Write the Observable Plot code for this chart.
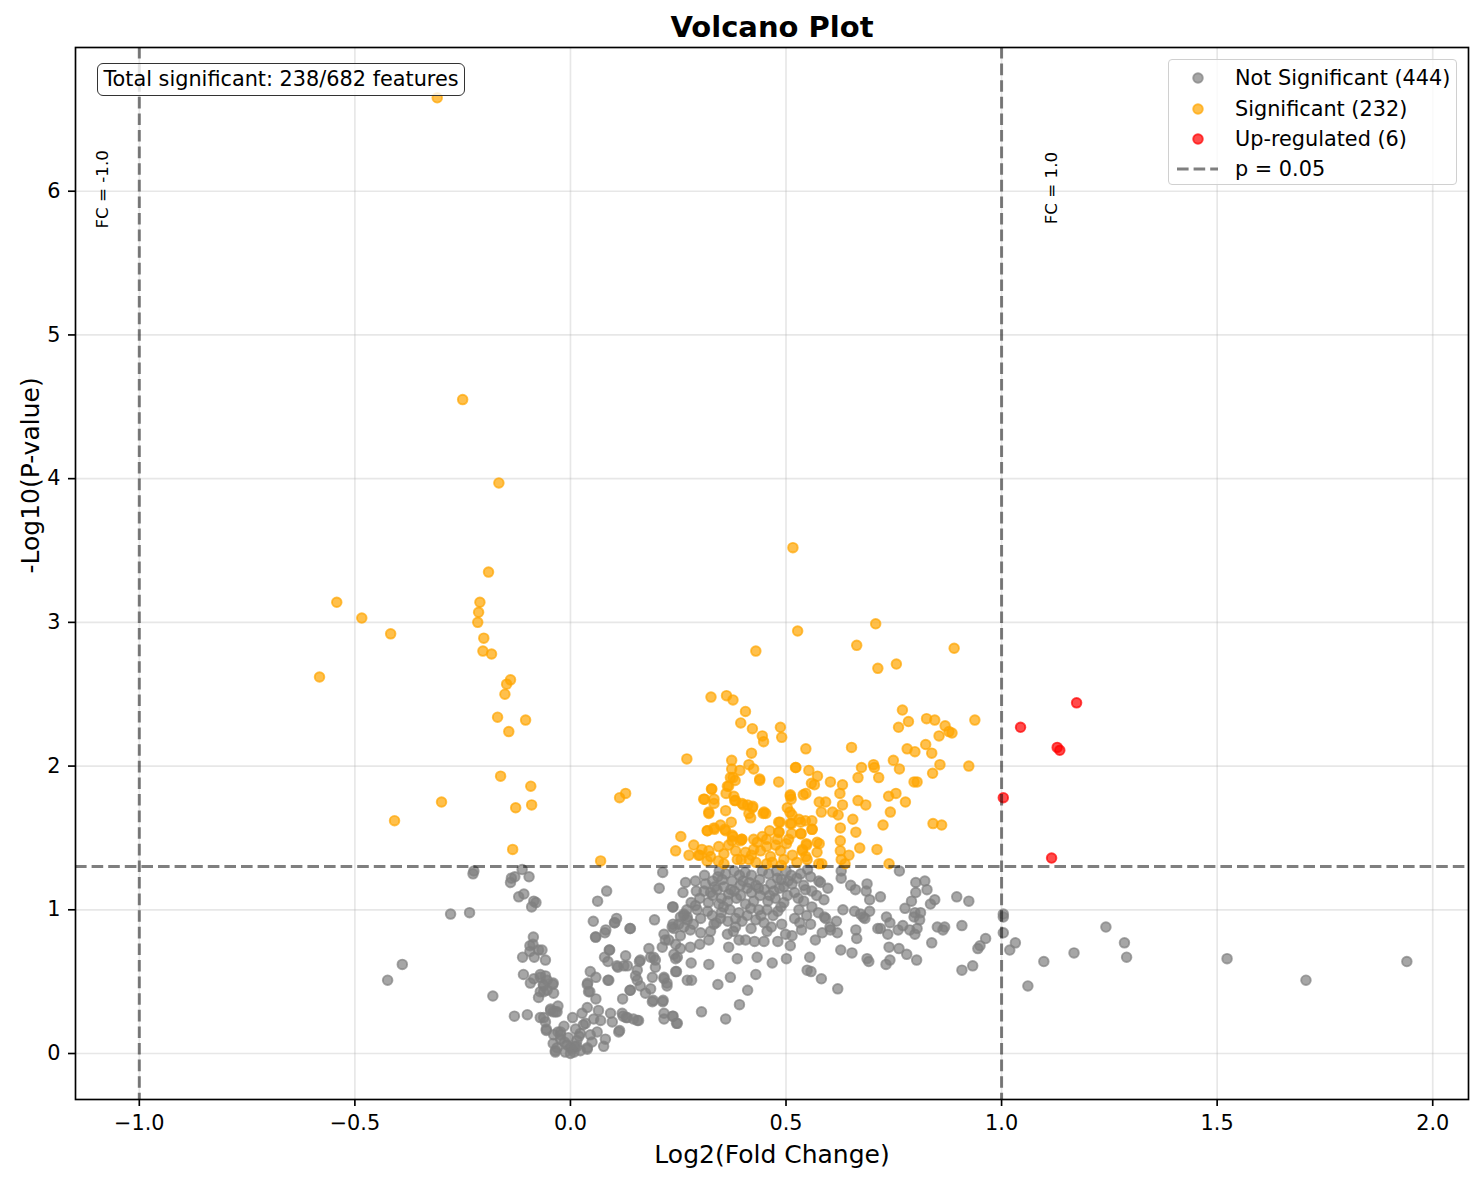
<!DOCTYPE html>
<html>
<head>
<meta charset="utf-8">
<script src="https://cdn.jsdelivr.net/npm/d3@7"></script>
<script src="https://cdn.jsdelivr.net/npm/@observablehq/plot@0.6"></script>
<style>
  body { margin: 0; background: white; font-family: "DejaVu Sans", sans-serif; }
  #wrap { position: relative; width: 1484px; height: 1182px; }
  #legend { position: absolute; left: 1168px; top: 59px; width: 289px; height: 126px;
    border: 1px solid #d0d0d0; border-radius: 4px; background: rgba(255,255,255,0.8);
    font-size: 20.8px; color: black; box-sizing: border-box; }
  .row { position: absolute; left: 0; height: 30px; display: flex; align-items: center; }
  .row span { position: absolute; left: 66px; white-space: nowrap; line-height: 30px; }
  #total { position: absolute; left: 97px; top: 63px; width: 368px; height: 33px; box-sizing: border-box;
    border: 1.6px solid #333; border-radius: 6px; background: rgba(255,255,255,0.8);
    font-size: 20.8px; line-height: 30px; text-align: center; color: black; white-space: nowrap; }
</style>
</head>
<body>
<div id="wrap"><div id="chart"></div><div id="legend"></div><div id="total"></div></div>
<script>
const chartTitle = "Volcano Plot";
const xLabel = "Log2(Fold Change)";
const yLabel = "-Log10(P-value)";
const xTicks = [-1, -0.5, 0, 0.5, 1, 1.5, 2];
const yTicks = [0, 1, 2, 3, 4, 5, 6];
const pThreshold = 0.05;
const fcThreshold = 1.0;
const legendLabels = ["Not Significant (444)", "Significant (232)", "Up-regulated (6)", "p = 0.05"];
const totalText = "Total significant: 238/682 features";

const upRegulated = [[1.174,2.44],[1.044,2.27],[1.129,2.13],[1.135,2.11],[1.004,1.78],[1.116,1.36]];

const significant = [
[-0.309,6.65],[-0.250,4.55],[-0.166,3.97],[-0.190,3.35],[-0.542,3.14],[-0.210,3.14],[-0.213,3.07],[-0.215,3.00],[-0.484,3.03],[-0.417,2.92],[-0.201,2.89],[-0.203,2.80],[-0.183,2.78],[-0.582,2.62],[-0.139,2.60],[-0.148,2.57],[-0.152,2.50],[-0.169,2.34],[-0.104,2.32],[-0.143,2.24],[-0.162,1.93],[-0.092,1.86],[-0.299,1.75],[-0.090,1.73],[-0.127,1.71],[-0.408,1.62],[-0.134,1.42],
[0.516,3.52],[0.527,2.94],[0.430,2.80],[0.326,2.48],[0.362,2.49],[0.377,2.46],[0.406,2.38],[0.395,2.30],[0.422,2.26],[0.487,2.27],[0.445,2.21],[0.448,2.17],[0.490,2.20],[0.270,2.05],[0.374,2.04],[0.420,2.09],[0.414,2.01],[0.425,1.98],[0.393,1.97],[0.374,1.98],[0.377,1.92],[0.382,1.90],[0.522,1.99],[0.439,1.90],[0.483,1.89],[0.128,1.81],[0.114,1.78],[0.367,1.86],[0.328,1.84],[0.361,1.81],[0.311,1.77],[0.333,1.77],[0.333,1.74],[0.379,1.79],[0.381,1.76],[0.401,1.73],[0.423,1.72],[0.510,1.80],[0.512,1.77],[0.321,1.68],[0.360,1.69],[0.414,1.67],[0.418,1.64],[0.447,1.67],[0.453,1.67],[0.503,1.71],[0.509,1.68],[0.318,1.55],[0.333,1.57],[0.348,1.59],[0.358,1.56],[0.373,1.61],[0.486,1.61],[0.513,1.60],[0.256,1.51],[0.244,1.41],[0.286,1.45],[0.275,1.38],[0.297,1.38],[0.070,1.34],[0.377,1.51],[0.397,1.49],[0.462,1.55],[0.484,1.54],[0.513,1.53],
[0.708,2.99],[0.664,2.84],[0.890,2.82],[0.713,2.68],[0.756,2.71],[0.770,2.39],[0.938,2.32],[0.784,2.31],[0.761,2.27],[0.826,2.33],[0.845,2.32],[0.869,2.28],[0.878,2.24],[0.885,2.23],[0.855,2.21],[0.546,2.12],[0.652,2.13],[0.781,2.12],[0.799,2.10],[0.824,2.15],[0.838,2.09],[0.749,2.04],[0.523,1.99],[0.553,1.97],[0.573,1.93],[0.675,1.99],[0.703,2.01],[0.705,1.99],[0.763,1.98],[0.857,2.01],[0.924,2.00],[0.840,1.95],[0.667,1.92],[0.715,1.92],[0.559,1.88],[0.566,1.87],[0.603,1.89],[0.631,1.87],[0.797,1.89],[0.804,1.89],[0.540,1.80],[0.546,1.81],[0.625,1.81],[0.755,1.81],[0.738,1.79],[0.577,1.75],[0.592,1.75],[0.667,1.76],[0.685,1.73],[0.777,1.75],[0.631,1.73],[0.582,1.68],[0.608,1.68],[0.621,1.66],[0.742,1.68],[0.530,1.63],[0.545,1.62],[0.560,1.62],[0.655,1.63],[0.725,1.59],[0.841,1.60],[0.861,1.59],[0.560,1.56],[0.626,1.57],[0.662,1.54],[0.535,1.53],[0.577,1.46],[0.548,1.45],[0.626,1.48],[0.626,1.41],[0.671,1.43],[0.711,1.42],[0.538,1.42],[0.646,1.38],[0.628,1.35],[0.546,1.37],[0.583,1.32],[0.637,1.32],[0.739,1.32],
[0.321,1.41],[0.325,1.37],[0.317,1.34],[0.344,1.44],[0.356,1.39],[0.367,1.45],[0.375,1.48],[0.383,1.41],[0.356,1.32],[0.387,1.35],[0.398,1.49],[0.406,1.40],[0.414,1.35],[0.425,1.42],[0.433,1.47],[0.441,1.41],[0.445,1.51],[0.455,1.49],[0.464,1.37],[0.476,1.45],[0.480,1.49],[0.487,1.41],[0.495,1.35],[0.501,1.46],[0.506,1.49],[0.534,1.53],[0.547,1.46],[0.538,1.41],[0.549,1.35],[0.561,1.56],[0.572,1.47],[0.572,1.40],[0.576,1.32],[0.317,1.55],[0.334,1.56],[0.360,1.55],[0.375,1.52],[0.394,1.48],[0.425,1.49],[0.483,1.61],[0.483,1.54],[0.510,1.60],[0.514,1.66],[0.534,1.61],[0.321,1.67],[0.309,1.77],[0.327,1.84],[0.364,1.86],[0.371,1.92],[0.383,1.76],[0.398,1.74],[0.411,1.73],[0.422,1.71],[0.449,1.68],[0.439,1.91],[0.510,1.79],[0.300,1.38],[0.305,1.42],[0.420,1.38],[0.430,1.33],[0.455,1.44],[0.468,1.33],[0.515,1.38],[0.525,1.33],[0.343,1.34],[0.396,1.35],[0.455,1.32],[0.489,1.31]
];

const notSignificant = [
[-0.226,1.25],[-0.224,1.27],[-0.137,1.22],[-0.129,1.23],[-0.139,1.19],[-0.112,1.28],[-0.096,1.23],[-0.120,1.09],[-0.108,1.11],[-0.085,1.06],[-0.080,1.05],[-0.090,1.02],[-0.278,0.97],[-0.234,0.98],[-0.086,0.81],[-0.094,0.75],[-0.087,0.76],[-0.094,0.71],[-0.074,0.72],[-0.111,0.67],[-0.084,0.67],[-0.058,0.65],[-0.390,0.62],[-0.424,0.51],[-0.180,0.40],[-0.109,0.55],[-0.085,0.52],[-0.093,0.49],[-0.070,0.53],[-0.058,0.54],[-0.063,0.48],[-0.041,0.48],[-0.070,0.43],[-0.062,0.43],[-0.039,0.42],[-0.074,0.39],[-0.130,0.26],[-0.100,0.27],[-0.070,0.25],[-0.056,0.16],[-0.058,0.22],[-0.046,0.30],[-0.029,0.33],[-0.031,0.29],[-0.040,0.29],[-0.029,0.15],[-0.023,0.13],[-0.040,0.07],[-0.035,0.02],[-0.014,0.08],[0.000,0.04],[0.000,0.00],[0.015,0.09],[0.023,0.14],[0.039,0.03],[0.053,0.92],[0.063,1.06],[0.084,1.13],[0.059,0.81],[0.080,0.84],[0.082,0.86],[0.103,0.91],[0.107,0.94],[0.138,0.87],[0.091,0.72],[0.079,0.67],[0.087,0.64],[0.128,0.68],[0.110,0.60],[0.124,0.61],[0.046,0.57],[0.059,0.53],[0.087,0.51],[0.039,0.48],[0.042,0.43],[0.059,0.38],[0.121,0.38],[0.138,0.44],[0.093,0.28],[0.120,0.28],[0.129,0.25],[0.112,0.15],[0.081,0.10],[0.077,0.05],[0.155,0.23],
[0.027,0.28],[0.039,0.32],[0.035,0.21],[0.046,0.13],[0.062,0.15],[0.070,0.23],[0.054,0.24],[0.012,0.17],[0.015,0.05],[0.004,0.03],[-0.008,0.06],[-0.023,0.10],[-0.031,0.04],[-0.035,0.01],[-0.023,0.15],[0.023,0.02],[-0.012,0.01],[0.008,0.01],[0.097,0.22],[0.122,0.26],[0.132,0.25],[0.114,0.16],[0.039,0.04],[-0.066,0.72],[-0.070,0.55],[-0.040,0.49],[-0.062,0.47],[-0.054,0.44],[-0.046,0.31],[-0.035,0.29],[-0.062,0.25],[-0.056,0.17],[-0.039,0.13],[-0.054,0.51],[0.040,0.49],[0.045,0.43],[0.089,0.51],[0.155,0.51],[0.190,0.53],[0.192,0.37],[0.215,0.37],[0.238,0.26],[0.246,0.21],[0.090,0.72],[0.108,0.61],[0.132,0.61],[0.160,0.64],[0.058,0.81],[0.102,0.91],[0.195,0.93],[0.238,1.02],
[0.186,0.67],[0.197,0.65],[0.217,0.52],[0.224,0.49],[0.246,0.57],[0.271,0.51],[0.213,0.74],[0.220,0.79],[0.240,0.69],[0.244,0.76],[0.255,0.82],[0.240,0.87],[0.263,0.88],[0.251,0.90],[0.271,0.95],[0.263,0.96],[0.010,0.05],[0.020,0.12],[-0.005,0.11],[0.030,0.20],[0.050,0.08],[0.065,0.30],[0.005,0.25],[-0.015,0.19],
[0.214,1.26],[0.206,1.15],[0.261,1.12],[0.267,1.19],[0.290,1.20],[0.292,1.13],[0.311,1.24],[0.313,1.18],[0.325,1.12],[0.342,1.23],[0.356,1.16],[0.367,1.11],[0.375,1.20],[0.394,1.17],[0.410,1.15],[0.439,1.21],[0.472,1.13],[0.489,1.21],[0.514,1.18],[0.534,1.25],[0.541,1.17],[0.557,1.23],[0.576,1.20],[0.571,1.10],[0.588,1.07],[0.541,1.06],[0.503,1.10],[0.495,1.05],[0.481,0.99],[0.458,1.06],[0.456,1.00],[0.437,1.00],[0.418,1.01],[0.406,1.04],[0.391,0.98],[0.383,0.94],[0.383,0.88],[0.344,1.04],[0.348,0.94],[0.329,0.96],[0.333,0.90],[0.294,1.00],[0.290,1.03],[0.302,0.94],[0.263,0.97],[0.237,1.02],[0.238,0.90],[0.236,0.88],[0.271,0.93],[0.278,0.86],[0.302,0.84],[0.325,0.85],[0.321,0.79],[0.364,0.83],[0.391,0.79],[0.406,0.79],[0.427,0.78],[0.449,0.78],[0.419,0.87],[0.449,0.91],[0.456,0.85],[0.481,0.78],[0.499,0.83],[0.514,0.82],[0.510,0.75],[0.520,0.94],[0.536,0.86],[0.557,0.90],[0.568,0.79],[0.592,0.94],[0.217,0.83],[0.228,0.79],[0.182,0.73],[0.255,0.73],[0.244,0.66],[0.248,0.67],[0.278,0.74],[0.300,0.76],[0.367,0.74],[0.387,0.66],[0.433,0.67],[0.468,0.63],[0.501,0.66],[0.555,0.67],[0.549,0.58],[0.558,0.57],[0.193,0.67],[0.197,0.60],[0.162,0.65],[0.155,0.58],[0.151,0.54],[0.217,0.53],[0.224,0.47],[0.244,0.57],[0.280,0.63],[0.281,0.51],[0.321,0.62],[0.342,0.48],[0.371,0.53],[0.430,0.55],[0.411,0.44],[0.392,0.34],[0.162,0.47],[0.174,0.42],[0.186,0.45],[0.190,0.36],[0.214,0.36],[0.217,0.28],[0.217,0.24],[0.237,0.26],[0.248,0.21],[0.304,0.29],[0.360,0.24],[0.158,0.23],[0.146,0.24],[0.139,0.44],[0.139,0.87],
[0.320,1.05],[0.330,1.10],[0.340,1.14],[0.350,1.08],[0.355,1.02],[0.365,1.06],[0.370,1.00],[0.380,1.13],[0.385,1.08],[0.395,1.10],[0.400,1.20],[0.405,1.26],[0.420,1.12],[0.425,1.06],[0.430,1.17],[0.440,1.10],[0.450,1.14],[0.460,1.25],[0.465,1.18],[0.475,1.08],[0.480,1.22],[0.485,1.15],[0.500,1.27],[0.505,1.20],[0.520,1.12],[0.525,1.22],[0.550,1.28],[0.560,1.13],[0.300,1.08],[0.310,1.13],[0.330,1.20],[0.345,1.27],[0.360,1.25],[0.380,1.27],[0.420,1.24],[0.445,1.27],[0.280,1.05],[0.270,1.00],[0.255,0.95],[0.285,0.90],[0.350,0.98],[0.365,0.92],[0.410,0.96],[0.430,0.93],[0.470,0.96],[0.490,0.90],[0.530,1.00],[0.560,1.02],[0.575,0.98],
[0.335,1.16],[0.352,1.21],[0.372,1.14],[0.392,1.24],[0.415,1.19],[0.436,1.15],[0.462,1.10],[0.478,1.27],[0.495,1.16],[0.512,1.24],[0.528,1.08],[0.545,1.14],[0.318,0.99],[0.338,0.91],[0.378,0.85],[0.398,0.92],[0.442,0.96],[0.466,0.88],[0.488,1.02],[0.532,0.91],[0.548,0.96],
[0.763,1.27],[0.628,1.27],[0.628,1.22],[0.650,1.17],[0.661,1.14],[0.688,1.18],[0.686,1.13],[0.597,1.15],[0.580,1.19],[0.694,1.07],[0.719,1.09],[0.801,1.19],[0.822,1.20],[0.827,1.14],[0.801,1.12],[0.791,1.06],[0.845,1.07],[0.835,1.04],[0.896,1.09],[0.924,1.06],[0.632,1.00],[0.659,0.99],[0.673,0.97],[0.679,0.95],[0.683,0.94],[0.694,0.99],[0.776,1.01],[0.799,0.98],[0.812,0.98],[0.797,0.95],[0.810,0.93],[0.733,0.95],[0.741,0.91],[0.589,0.95],[0.617,0.92],[0.602,0.88],[0.603,0.86],[0.584,0.84],[0.619,0.84],[0.662,0.86],[0.664,0.80],[0.713,0.87],[0.719,0.87],[0.736,0.83],[0.760,0.86],[0.771,0.89],[0.787,0.86],[0.804,0.87],[0.799,0.83],[0.851,0.88],[0.868,0.88],[0.864,0.86],[0.908,0.89],[0.838,0.77],[0.963,0.80],[0.950,0.75],[0.945,0.73],[0.739,0.74],[0.762,0.73],[0.780,0.69],[0.627,0.72],[0.653,0.70],[0.688,0.66],[0.692,0.64],[0.741,0.65],[0.732,0.62],[0.803,0.65],[0.908,0.58],[0.933,0.61],[0.582,0.52],[0.620,0.45],
[1.004,0.95],[1.004,0.84],[1.032,0.77],[1.019,0.72],[1.098,0.64],[1.061,0.47],[1.168,0.70],[1.242,0.88],[1.285,0.77],[1.290,0.67],[1.523,0.66],[1.706,0.51],[1.940,0.64],[1.004,0.97]
];

const colors = {ns: "gray", sig: "orange", up: "red"};
const dotOpts = (c) => ({x: d => d[0], y: d => d[1], r: 4.8, fill: c, fillOpacity: 0.7, stroke: c, strokeOpacity: 0.7, strokeWidth: 1.9});
const dashOpts = {stroke: "black", strokeOpacity: 0.5, strokeWidth: 3, strokeDasharray: "11.6,5"};
const pLine = -Math.log10(pThreshold);

const chart = Plot.plot({
  width: 1484, height: 1182,
  marginLeft: 75, marginRight: 16, marginTop: 47, marginBottom: 83,
  style: {fontFamily: "DejaVu Sans", fontSize: "20.8px", color: "black", background: "white"},
  x: {domain: [-1.148, 2.083]},
  y: {domain: [-0.32, 7.0]},
  marks: [
    Plot.gridX(xTicks, {stroke: "#b0b0b0", strokeOpacity: 0.3, strokeWidth: 1.67}),
    Plot.gridY(yTicks, {stroke: "#b0b0b0", strokeOpacity: 0.3, strokeWidth: 1.67}),
    Plot.dot(notSignificant, dotOpts(colors.ns)),
    Plot.dot(significant, dotOpts(colors.sig)),
    Plot.dot(upRegulated, dotOpts(colors.up)),
    Plot.ruleY([pLine], dashOpts),
    Plot.ruleX([-fcThreshold, fcThreshold], dashOpts),
    Plot.text([-fcThreshold, fcThreshold], {x: d => d + 0.1 * Math.sign(d), y: d => (d < 0 ? 5.74 : 5.77),
      text: d => `FC = ${d.toFixed(1)}`, rotate: -90, textAnchor: "start", lineAnchor: "top", fontSize: 16.7, fill: "black"}),
    Plot.axisX(xTicks, {tickSize: 7, tickPadding: 9, strokeWidth: 1.67, tickFormat: d3.format(".1f"), label: null, fontSize: 20.8}),
    Plot.axisY(yTicks, {tickSize: 7, tickPadding: 8, strokeWidth: 1.67, tickFormat: d3.format("d"), label: null, fontSize: 20.8}),
    Plot.frame({stroke: "black", strokeWidth: 1.67}),
    Plot.text([chartTitle], {frameAnchor: "top", lineAnchor: "bottom", dy: -11, fontSize: 29, fontWeight: "bold"}),
    Plot.text([xLabel], {frameAnchor: "bottom", lineAnchor: "bottom", dy: 63, fontSize: 25}),
    Plot.text([yLabel], {frameAnchor: "left", lineAnchor: "bottom", rotate: -90, dx: -37, fontSize: 25})
  ]
});
document.getElementById("chart").appendChild(chart);

// legend
const legend = d3.select("#legend");
const rowTops = [3, 34, 64, 94];
const kinds = ["ns", "sig", "up", "line"];
kinds.forEach((k, i) => {
  const row = legend.append("div").attr("class", "row").style("top", rowTops[i] + "px").style("width", "100%");
  const svg = row.append("svg").attr("width", 60).attr("height", 30).style("position", "absolute").style("left", "0px");
  if (k === "line") {
    svg.append("line").attr("x1", 8).attr("x2", 49).attr("y1", 15).attr("y2", 15)
      .attr("stroke", "black").attr("stroke-opacity", 0.5).attr("stroke-width", 3).attr("stroke-dasharray", "11.6,5");
  } else {
    svg.append("circle").attr("cx", 29).attr("cy", 15).attr("r", 4.8)
      .attr("fill", colors[k]).attr("fill-opacity", 0.7).attr("stroke", colors[k]).attr("stroke-opacity", 0.7).attr("stroke-width", 1.9);
  }
  row.append("span").text(legendLabels[i]);
});
d3.select("#total").text(totalText);
</script>
</body>
</html>
